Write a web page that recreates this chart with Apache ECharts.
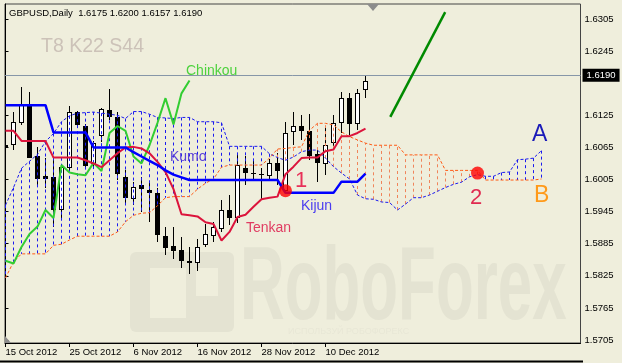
<!DOCTYPE html>
<html><head><meta charset="utf-8">
<script src="https://cdn.jsdelivr.net/npm/echarts@6/dist/echarts.min.js"></script>
<style>html,body{margin:0;padding:0;background:#EFEEDC;}#c{width:622px;height:363px;}</style>
</head><body><div id="c"></div>
<script>
// ---- tick labels ----
const xTickPos = [0, 8, 16, 24, 32, 40];
const xTickLabels = ['15 Oct 2012', '25 Oct 2012', '6 Nov 2012', '16 Nov 2012', '28 Nov 2012', '10 Dec 2012'];
const yTicks = [1.5705, 1.5765, 1.5825, 1.5885, 1.5945, 1.6005, 1.6065, 1.6125, 1.6245, 1.6305];
const lastPrice = 1.6190;

// ---- candles (bar index 0 = 15 Oct 2012) ----
const opens  = [1.6069,1.6071,1.6113,1.6146,1.6049,1.6011,1.6010,1.5949,1.6028,1.6131,
                1.6105,1.6036,1.6088,1.6135,1.6122,1.6009,1.5970,1.5994,1.5985,1.5979,
                1.5899,1.5881,1.5873,1.5852,1.5850,1.5884,1.5902,1.5915,1.5948,1.5935,
                1.6026,1.6018,1.6016,1.6013,1.6036,1.5985,1.6096,1.6105,1.6096,1.6052,
                1.6035,1.6075,1.6112,1.6157,1.6110,1.6175];
const closes = [1.6066,1.6113,1.6144,1.6046,1.6005,1.6006,1.5948,1.6029,1.6131,1.6107,
                1.6031,1.6074,1.6136,1.6122,1.6015,1.5970,1.5991,1.5987,1.5979,1.5902,
                1.5877,1.5872,1.5853,1.5848,1.5879,1.5903,1.5917,1.5948,1.5933,1.6032,
                1.6018,1.6015,1.6013,1.6036,1.6021,1.6092,1.6105,1.6096,1.6048,1.6035,
                1.6069,1.6111,1.6157,1.6108,1.6166,1.6190];
const lows   = [1.6032,1.6060,1.6107,1.6045,1.5991,1.5990,1.5917,1.5932,1.6023,1.6101,
                1.6026,1.6026,1.6075,1.6116,1.6004,1.5957,1.5957,1.5945,1.5926,1.5888,
                1.5864,1.5856,1.5839,1.5828,1.5834,1.5879,1.5889,1.5907,1.5920,1.5924,
                1.5995,1.6004,1.5967,1.6004,1.5995,1.5979,1.6069,1.6079,1.6041,1.6001,
                1.6013,1.6060,1.6091,1.6088,1.6097,1.6157];
const highs  = [1.6082,1.6132,1.6177,1.6169,1.6065,1.6046,1.6043,1.6032,1.6143,1.6133,
                1.6109,1.6077,1.6139,1.6175,1.6132,1.6023,1.6001,1.6010,1.6001,1.5989,
                1.5917,1.5917,1.5898,1.5879,1.5893,1.5922,1.5926,1.5967,1.5976,1.6051,
                1.6048,1.6041,1.6026,1.6044,1.6054,1.6113,1.6132,1.6125,1.6127,1.6063,
                1.6101,1.6126,1.6169,1.6166,1.6175,1.6200];

// ---- Ichimoku lines ----
const tenkan = [1.6096,1.6096,1.6077,1.6077,1.6077,1.6077,1.6046,1.6046,1.6046,1.6046,
                1.6041,1.6035,1.6028,1.6041,1.6054,1.6065,1.6066,1.6063,1.6054,1.6038,
                1.6019,1.5987,1.5940,1.5938,1.5936,1.5925,1.5922,1.5891,1.5907,1.5935,
                1.5939,1.5954,1.5968,1.5971,1.5973,1.6015,1.6029,1.6045,1.6046,1.6046,
                1.6058,1.6061,1.6086,1.6086,1.6092,1.6100];
const kijun  = [1.6144,1.6144,1.6144,1.6144,1.6144,1.6144,1.6093,1.6093,1.6093,1.6093,
                1.6093,1.6065,1.6065,1.6065,1.6065,1.6065,1.6056,1.6048,1.6040,1.6032,
                1.6022,1.6014,1.6009,1.6004,1.6004,1.6004,1.6004,1.6004,1.6004,1.6004,
                1.6004,1.6004,1.6004,1.6004,1.6004,1.5980,1.5980,1.5980,1.5980,1.5980,
                1.5980,1.5980,1.6001,1.6001,1.6001,1.6016];
const chinkou = [1.5853,1.5848,1.5879,1.5903,1.5917,1.5948,1.5933,1.6032,1.6018,1.6015,
                 1.6013,1.6036,1.6021,1.6092,1.6105,1.6096,1.6048,1.6035,1.6069,1.6111,
                 1.6157,1.6108,1.6166,1.6190];
const senkouA = [1.5957,1.5990,1.6026,1.6039,1.6052,1.6076,1.6091,1.6113,1.6124,1.6129,
                 1.6130,1.6131,1.6129,1.6127,1.6125,1.6119,1.6132,1.6132,1.6127,1.6121,
                 1.6120,1.6119,1.6121,1.6121,1.6113,1.6113,1.6113,1.6111,1.6067,1.6067,
                 1.6067,1.6067,1.6067,1.6053,1.6046,1.6041,1.6047,1.6057,1.6060,1.6060,
                 1.6045,1.6029,1.6017,1.6006,1.5976,1.5969,1.5968,1.5963,1.5962,1.5948,
                 1.5959,1.5971,1.5971,1.5976,1.5983,1.5990,1.5996,1.6000,1.6010,1.6014,
                 1.6011,1.6011,1.6018,1.6019,1.6042,1.6043,1.6045,1.6059];
const senkouB = [1.5821,1.5851,1.5866,1.5866,1.5866,1.5866,1.5882,1.5884,1.5892,1.5899,
                 1.5899,1.5899,1.5899,1.5899,1.5907,1.5926,1.5938,1.5942,1.5943,1.5956,
                 1.5971,1.5973,1.5973,1.5973,1.5987,1.5998,1.6006,1.6028,1.6032,1.6032,
                 1.6032,1.6032,1.6032,1.6045,1.6062,1.6063,1.6065,1.6066,1.6097,1.6110,
                 1.6110,1.6107,1.6094,1.6085,1.6079,1.6073,1.6069,1.6069,1.6069,1.6069,
                 1.6051,1.6051,1.6051,1.6051,1.6051,1.6022,1.6022,1.6022,1.6022,1.6022,
                 1.6004,1.6004,1.6004,1.6004,1.6004,1.6004,1.6004,1.6006];

// ---- annotations ----
const signalDots = [[35, 1.5984], [59, 1.6017]];
const trendLine = [[48.1, 1.6122], [54.96, 1.6318]];

const BG = '#EFEEDC';
const WM = '#E4E3D2';
const FONT = 'Liberation Sans, Arial, sans-serif';

const candleData = opens.map((o, i) => [i, o, closes[i], lows[i], highs[i]]);
const cloudData = senkouA.map((a, i) => [i, a, senkouB[i]]);
const pairs = arr => arr.map((v, i) => [i, v]);

function renderCandle(params, api) {
  const k = api.value(0), o = api.value(1), c = api.value(2), l = api.value(3), h = api.value(4);
  const pO = api.coord([k, o]), pC = api.coord([k, c]), pL = api.coord([k, l]), pH = api.coord([k, h]);
  const x = Math.round(pO[0] - 0.5) + 0.5;
  const top = Math.round(Math.min(pO[1], pC[1]));
  const bot = Math.round(Math.max(pO[1], pC[1]));
  const hg = Math.max(bot - top, 1);
  const cs = params.coordSys;
  const children = [{
    type: 'line',
    shape: { x1: x, y1: Math.round(pH[1]), x2: x, y2: Math.round(pL[1]) },
    style: { stroke: '#000', lineWidth: 1 }
  }];
  const bull = c > o;
  const outer = echarts.graphic.clipRectByRect({ x: x - 2.5, y: top, width: 5, height: hg + (bull ? 1 : 0) }, cs);
  if (outer) {
    children.push({ type: 'rect', shape: outer, style: { fill: '#000' } });
    if (bull && hg > 1) {
      const inner = echarts.graphic.clipRectByRect({ x: x - 1.5, y: top + 1, width: 3, height: hg - 1 }, cs);
      if (inner) children.push({ type: 'rect', shape: inner, style: { fill: '#fff' } });
    }
  }
  return { type: 'group', children };
}

function renderCloud(params, api) {
  const k = api.value(0), a = api.value(1), b = api.value(2);
  const p1 = api.coord([k, a]), p2 = api.coord([k, b]);
  const x = Math.round(p1[0] - 0.5) + 0.5;
  return {
    type: 'line',
    shape: { x1: x, y1: p1[1], x2: x, y2: p2[1] },
    style: { stroke: a >= b ? '#1A1AF0' : '#F0845A', lineWidth: 1, lineDash: [3, 3] }
  };
}

const txt = (x, y, text, color, size, extra) => Object.assign({
  type: 'text', left: x, top: y, z: 50,
  style: { text, fill: color, font: size + 'px ' + FONT }
}, extra || {});

const chart = echarts.init(document.getElementById('c'));
chart.setOption({
  backgroundColor: BG,
  animation: false,
  grid: { left: 5, right: 41.5, top: 4, bottom: 20, show: true, borderColor: '#444', borderWidth: 1 },
  xAxis: {
    type: 'value', min: -0.0625, max: 71.875,
    splitLine: { show: false },
    axisLine: { show: true, onZero: false, lineStyle: { color: '#000' } },
    axisTick: { show: true, length: 4, lineStyle: { color: '#000' }, customValues: xTickPos },
    axisLabel: {
      customValues: xTickPos, align: 'left', margin: 4, color: '#000', fontSize: 9.5, fontFamily: FONT,
      formatter: v => { const i = xTickPos.indexOf(Math.round(v)); return i >= 0 ? xTickLabels[i] : ''; }
    }
  },
  yAxis: {
    type: 'value', position: 'right', min: 1.569939, max: 1.633304, scale: true,
    splitLine: { show: false },
    axisLine: { show: true, lineStyle: { color: '#000' } },
    axisTick: { show: true, length: 3, lineStyle: { color: '#000' }, customValues: yTicks },
    axisLabel: { customValues: yTicks, margin: 4, color: '#000', fontSize: 9.5, fontFamily: FONT,
      formatter: v => v.toFixed(4) }
  },
  graphic: [
    // watermark
    { type: 'rect', left: 130, top: 252, z: 0, shape: { width: 104, height: 80, r: 6 }, style: { fill: WM } },
    { type: 'rect', left: 150, top: 268, z: 0, shape: { width: 36, height: 50 }, style: { fill: BG } },
    { type: 'rect', left: 196, top: 268, z: 0, shape: { width: 22, height: 28 }, style: { fill: BG } },
    { type: 'text', x: 240, y: 238, z: 0, scaleX: 0.595,
      style: { text: 'RoboForex', fill: WM, font: 'bold 104px ' + FONT } },
    txt(288, 327, 'ИСПОЛЬЗУЙ РОБОФОРЕКС', '#E8E7D6', 9, { z: 0 }),
    // header + parameters
    txt(9, 8, 'GBPUSD,Daily  1.6175 1.6200 1.6157 1.6190', '#000', 9.5),
    txt(41, 37, 'T8 K22 S44', '#CCC2B8', 19.5),
    // line names
    txt(186, 64, 'Chinkou', '#4ED23E', 14),
    txt(170, 150, 'Kumo', '#5A40D8', 14),
    txt(301, 199, 'Kijun', '#4A3CF0', 14),
    txt(246, 221, 'Tenkan', '#E03C62', 14),
    txt(295, 170, '1', '#E83058', 22),
    txt(470, 187, '2', '#E02A50', 22),
    txt(532, 123, 'A', '#1A1AB8', 23),
    txt(534, 184, 'B', '#FF9A1A', 23),
    // small markers
    { type: 'polygon', z: 50, shape: { points: [[367, 4], [379, 4], [373, 11]] }, style: { fill: '#8C8C8C' } },
    { type: 'polygon', z: 50, shape: { points: [[5, 336], [5, 343], [11, 343]] }, style: { fill: '#8C8C8C' } },
    // bottom frame
    { type: 'line', z: 50, shape: { x1: 0, y1: 361.5, x2: 583, y2: 361.5 }, style: { stroke: '#000', lineWidth: 2 } }
  ],
  series: [
    { type: 'custom', name: 'candles', renderItem: renderCandle, data: candleData, z: 2,
      encode: { x: 0, y: [1, 2, 3, 4] } },
    { type: 'custom', name: 'kumo', renderItem: renderCloud, data: cloudData, z: 3,
      encode: { x: 0, y: [1, 2] } },
    { type: 'line', name: 'Senkou A', data: pairs(senkouA), symbol: 'none', z: 4,
      lineStyle: { color: '#1A1AF0', width: 1, type: [3, 2] } },
    { type: 'line', name: 'Senkou B', data: pairs(senkouB), symbol: 'none', z: 4,
      lineStyle: { color: '#FF5A14', width: 1, type: [3, 2] } },
    { type: 'line', name: 'Chinkou', data: pairs(chinkou), symbol: 'none', z: 5,
      lineStyle: { color: '#32CD32', width: 2 },
      markLine: { silent: true, symbol: ['none', 'none'], animation: false,
        lineStyle: { color: '#8696A8', width: 1, type: 'solid' },
        label: { show: true, position: 'end', distance: 2, formatter: lastPrice.toFixed(4),
          color: '#fff', backgroundColor: '#000', padding: [2, 4, 1, 4], fontSize: 9.5, fontFamily: FONT },
        data: [{ yAxis: lastPrice }] } },
    { type: 'line', name: 'Tenkan', data: pairs(tenkan), symbol: 'none', z: 6,
      lineStyle: { color: '#DC143C', width: 2 } },
    { type: 'line', name: 'Kijun', data: pairs(kijun), symbol: 'none', z: 6,
      lineStyle: { color: '#0000FF', width: 2.5 } },
    { type: 'line', name: 'trend', data: trendLine, symbol: 'none', z: 7,
      lineStyle: { color: '#008A00', width: 2.5 } },
    { type: 'scatter', name: 'signals', data: signalDots, symbol: 'circle', symbolSize: 13, z: 8,
      itemStyle: { color: '#FF0000' } }
  ]
});
</script></body></html>
